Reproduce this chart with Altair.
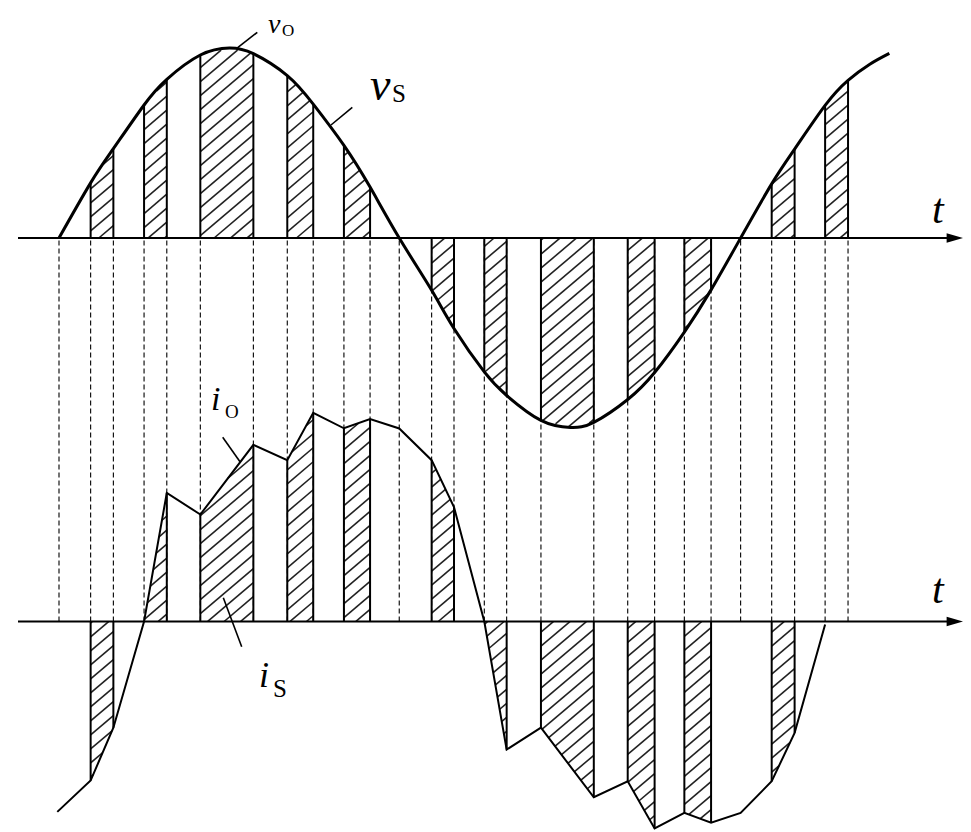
import altair as alt
import numpy as np
import pandas as pd

# ---------------- data (t in electrical degrees of v_S, amplitudes normalised) ----------------
pulse_on = [16.7, 44.9, 74.6, 120.5, 150.4, 196.7, 224.5, 254.4, 300.2, 330.1, 376.2, 404.4]
pulse_off = [28.7, 56.9, 102.6, 134.2, 164.2, 208.5, 236.3, 282.3, 314.4, 344.2, 388.3, 416.5]
zero_cross = [0.0, 179.6, 359.8]

vs_t = [0, 16.7, 28.7, 44.9, 56.9, 74.6, 90, 102.6, 120.5, 134.2, 150.4, 164.2, 179.6,
        196.7, 208.5, 224.5, 236.3, 254.4, 270, 282.3, 300.2, 314.4, 330.1, 344.2, 359.8,
        376.2, 388.3, 404.4, 416.5, 428.0, 438.3]
vs_v = [0, 0.29, 0.47, 0.70, 0.835, 0.963, 1.0, 0.97, 0.855, 0.705, 0.488, 0.268, 0,
        -0.275, -0.476, -0.705, -0.829, -0.96, -0.997, -0.97, -0.85, -0.708, -0.495, -0.273, 0,
        0.285, 0.468, 0.698, 0.83, 0.915, 0.972]

io_t = [-0.9, 16.7, 28.7, 44.9, 56.9, 74.6, 102.6, 120.5, 134.2, 150.4, 164.2, 179.6,
        196.7, 208.5, 224.5, 236.3, 254.4, 282.3, 300.2, 314.4, 330.1, 344.2, 359.8,
        376.2, 388.3, 404.4]
io_v = [-1.002, -0.837, -0.559, 0.0, 0.677, 0.563, 0.930, 0.849, 1.098, 1.017, 1.065, 1.016,
        0.849, 0.602, 0.0, -0.674, -0.559, -0.925, -0.841, -1.089, -1.007, -1.059, -1.007,
        -0.841, -0.586, -0.016]

# ---------------- layout (pixels of the page) ----------------
PAGE = 8
W, H = 955, 823
X0, KX = 59.0, 682.0 / 360.0        # pixel of t=0, pixels per degree
Y_BOT, Y_TOP, KY = 621.5, 238.0, 190.0
OFFSET = (Y_BOT - Y_TOP) / KY       # vertical offset of the upper (voltage) panel
FONT = "Liberation Serif, Times New Roman, Times, serif"


def tx(X):
    return (np.asarray(X, dtype=float) - X0) / KX


def ty(Y):
    return (Y_BOT - np.asarray(Y, dtype=float)) / KY


def px(t):
    return X0 + KX * np.asarray(t, dtype=float)


def py(yd):
    return Y_BOT - KY * np.asarray(yd, dtype=float)


xs = alt.Scale(domain=[float(tx(PAGE)), float(tx(PAGE + W))], nice=False, zero=False)
ys = alt.Scale(domain=[float(ty(PAGE + H)), float(ty(PAGE))], nice=False, zero=False)


def X(f="x"):
    return alt.X(f + ":Q", scale=xs, axis=None)


def Y(f="y"):
    return alt.Y(f + ":Q", scale=ys, axis=None)


# ---------------- hatch segments ----------------
def hatch(tt, vv, base, a, b, spacing=14.0, slope=0.85):
    segs = []
    Xa, Xb = float(px(a)), float(px(b))
    Xs = np.arange(Xa, Xb, 0.2)
    Xs = np.append(Xs, Xb)
    vals = np.interp(tx(Xs), tt, vv)
    Yc = py(base + vals)
    Yb = np.full_like(Yc, float(py(base)))
    lo = np.minimum(Yc, Yb)
    hi = np.maximum(Yc, Yb)
    cmin = np.min(lo + slope * Xs)
    cmax = np.max(hi + slope * Xs)
    for k in range(int(np.floor(cmin / spacing)), int(np.ceil(cmax / spacing)) + 1):
        c = k * spacing
        Yl = c - slope * Xs
        inside = (Yl >= lo) & (Yl <= hi)
        if not inside.any():
            continue
        idx = np.where(inside)[0]
        runs = np.split(idx, np.where(np.diff(idx) > 1)[0] + 1)
        for r in runs:
            if len(r) < 2:
                continue
            i0, i1 = r[0], r[-1]
            segs.append(dict(x=float(tx(Xs[i0])), y=float(ty(Yl[i0])),
                             x2=float(tx(Xs[i1])), y2=float(ty(Yl[i1]))))
    return segs


hatch_rows = []
edge_rows = []
for a, b in zip(pulse_on, pulse_off):
    hatch_rows += hatch(vs_t, vs_v, OFFSET, a, b)
    for e in (a, b):
        edge_rows.append(dict(x=e, y=OFFSET, y2=OFFSET + float(np.interp(e, vs_t, vs_v))))
    if b <= io_t[-1]:
        hatch_rows += hatch(io_t, io_v, 0.0, a, b)
        for e in (a, b):
            edge_rows.append(dict(x=e, y=0.0, y2=float(np.interp(e, io_t, io_v))))

hatch_df = pd.DataFrame(hatch_rows)
edge_df = pd.DataFrame(edge_rows)

all_edges = sorted(zero_cross + pulse_on + pulse_off)
dash_df = pd.DataFrame(dict(x=all_edges, y=[0.0] * len(all_edges), y2=[OFFSET] * len(all_edges)))

vs_df = pd.DataFrame(dict(x=vs_t, y=[OFFSET + v for v in vs_v]))
io_df = pd.DataFrame(dict(x=io_t, y=io_v))

axis_df = pd.DataFrame(dict(x=[float(tx(18))] * 2, x2=[float(tx(950))] * 2, y=[OFFSET, 0.0]))
arrow_df = pd.DataFrame(dict(x=[float(tx(955))] * 2, y=[OFFSET, 0.0]))

leaders_px = [((236.7, 48.3), (257.3, 32.3)),
              ((331.0, 125.0), (352.3, 107.3)),
              ((222.7, 437.3), (240.0, 461.7)),
              ((223.3, 597.7), (241.7, 646.7))]
lead_df = pd.DataFrame([dict(x=float(tx(p[0])), y=float(ty(p[1])),
                             x2=float(tx(q[0])), y2=float(ty(q[1]))) for p, q in leaders_px])

# labels: (text, left px, baseline px, size, italic)
labels = [("v", 268, 33, 28, True), ("O", 282, 36, 17, False),
          ("v", 370, 100, 46, True), ("S", 392, 101.7, 25, False),
          ("i", 211, 410, 34, True), ("O", 225, 418, 19, False),
          ("i", 259, 687, 36, True), ("S", 273, 697, 25, False),
          ("t", 932, 223, 42, True), ("t", 932, 603, 42, True)]

# ---------------- layers ----------------
dashed = alt.Chart(dash_df).mark_rule(color="black", strokeWidth=1.1, strokeDash=[5, 3]).encode(
    x=X(), y=Y(), y2="y2:Q")

hatch_l = alt.Chart(hatch_df).mark_rule(color="#222", strokeWidth=1.6).encode(
    x=X(), y=Y(), x2="x2:Q", y2="y2:Q")

edges = alt.Chart(edge_df).mark_rule(color="black", strokeWidth=2).encode(
    x=X(), y=Y(), y2="y2:Q")

vs_line = alt.Chart(vs_df).mark_line(color="black", strokeWidth=3, interpolate="natural").encode(
    x=X(), y=Y())

io_line = alt.Chart(io_df).mark_line(color="black", strokeWidth=2).encode(x=X(), y=Y())

axes = alt.Chart(axis_df).mark_rule(color="black", strokeWidth=2).encode(
    x=X(), x2="x2:Q", y=Y())

arrows = alt.Chart(arrow_df).mark_point(
    shape="M-1,-0.56L1,0L-1,0.56Z", size=279, filled=True, color="black", opacity=1,
    strokeWidth=0).encode(x=X(), y=Y())

leads = alt.Chart(lead_df).mark_rule(color="black", strokeWidth=1.6).encode(
    x=X(), y=Y(), x2="x2:Q", y2="y2:Q")

text_layers = []
for txt, lx, by, size, ital in labels:
    d = pd.DataFrame(dict(x=[float(tx(lx))], y=[float(ty(by))], s=[txt]))
    text_layers.append(alt.Chart(d).mark_text(
        font=FONT, fontSize=size, fontStyle="italic" if ital else "normal",
        align="left", baseline="alphabetic", color="black").encode(x=X(), y=Y(), text="s:N"))

chart = alt.layer(dashed, hatch_l, edges, vs_line, io_line, axes, arrows, leads, *text_layers).properties(
    width=W, height=H, autosize=alt.AutoSizeParams(type="none"), padding=0, background="white"
).configure_view(stroke=None)

chart.save("out.html", embed_options={"renderer": "svg", "actions": False})
